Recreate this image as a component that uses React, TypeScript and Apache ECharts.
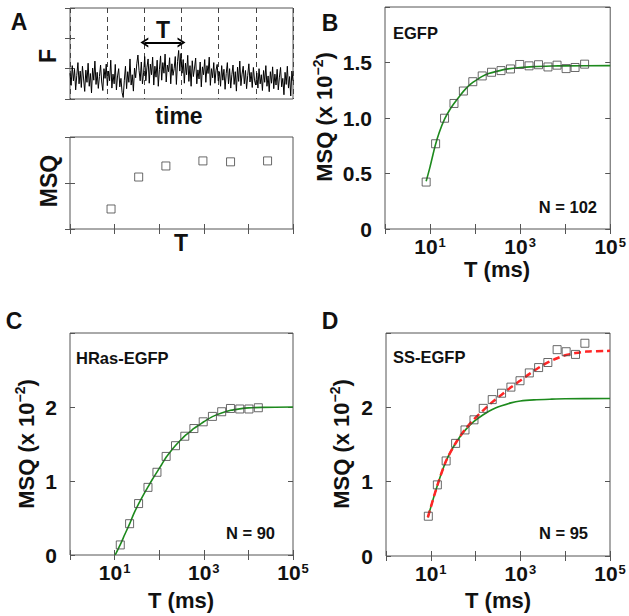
import { useEffect, useRef } from "react";
import * as echarts from "echarts";

const FONT = '"Liberation Sans", Arial, sans-serif';
const INK = "#111";
const FRAME = "#555";
const GREEN = "#1d8a1d";
const RED = "#ff2626";

// Panel A (top): fluorescence trace, evenly sampled over 6 intervals
const traceF = [
  0.85, 0.45, 1.1, 0.6, 0.98, 0.3, 0.78, 1.2, 0.5, 0.92, 0.38, 1.08, 0.66, 0.25, 0.95, 0.55, 1.18, 0.42, 0.84, 0.2, 1.02, 0.62, 1.25, 0.48, 0.88, 0.35, 0.74, 1.12, 0.56, 0.28, 1.0, 0.68, 1.15,
  0.44, 0.92, 0.6, 1.28, 0.36, 0.82, 0.5, 1.14, 0.3, 0.76, 1.0, 0.4, 0.68, 0.22, 0.05, 0.62, 1.08, 0.34, 0.9, 0.55, 1.32, 0.46, 0.8, 0.26, 1.02, 0.7, 1.16, 1.45, 0.94, 0.6, 1.22, 0.5, 0.86,
  1.4, 0.6, 1.05, 1.32, 0.52, 1.15, 0.8, 1.38, 0.46, 1.08, 0.72, 1.28, 0.42, 0.98, 1.42, 0.62, 1.2, 0.85, 1.48, 0.56, 1.12, 0.9, 1.36, 0.5, 1.16, 0.78, 1.0, 1.4, 0.48, 1.24, 1.6, 0.92, 1.5,
  0.85, 1.3, 0.52, 1.18, 0.8, 1.44, 0.58, 1.1, 0.42, 1.26, 0.74, 1.02, 1.35, 0.5, 0.96, 0.66, 1.22, 0.4, 1.06, 0.8, 1.3, 0.55, 1.1, 0.84, 1.38, 0.45, 1.0, 0.7, 1.2, 0.52, 0.95, 1.14, 0.6,
  0.9, 0.42, 1.1, 0.62, 0.98, 0.32, 0.84, 1.2, 0.5, 1.0, 0.36, 0.8, 1.12, 0.48, 0.9, 0.26, 1.05, 0.58, 1.25, 0.44, 0.82, 1.08, 0.5, 0.94, 0.34, 0.78, 1.16, 0.56, 0.88, 0.38, 1.04, 0.62, 0.46,
  0.86, 0.36, 1.0, 0.5, 0.8, 0.28, 0.94, 0.55, 1.1, 0.42, 0.76, 0.24, 0.9, 0.52, 1.06, 0.34, 0.82, 0.46, 0.98, 0.3, 0.72, 1.04, 0.4, 0.68, 0.14, 0.88, 0.48, 1.08, 0.36, 0.74, 0.1, 0.92, 0.6,
];

// Panel A (bottom): schematic MSQ vs T
const schemT = [0.92, 1.54, 2.15, 2.98, 3.6, 4.43];
const schemMSQ = [0.435, 1.13, 1.37, 1.48, 1.46, 1.48];

// Panel B: EGFP
const egfpT = [8.2, 13.3, 21, 34, 55, 89, 144, 232, 377, 610, 980, 1580, 2560, 4150, 6600, 10500, 16600, 27000];
const egfpMSQ = [0.423, 0.768, 0.998, 1.131, 1.243, 1.327, 1.379, 1.412, 1.427, 1.442, 1.482, 1.47, 1.48, 1.46, 1.476, 1.445, 1.455, 1.485];
const egfpFitT = [8.2, 10, 13, 16, 21, 27, 34, 44, 55, 70, 89, 115, 144, 200, 300, 500, 1000, 2000, 5000, 10000, 100000];
const egfpFitMSQ = [0.43, 0.56, 0.75, 0.87, 0.99, 1.07, 1.13, 1.19, 1.24, 1.285, 1.32, 1.35, 1.375, 1.4, 1.42, 1.44, 1.455, 1.463, 1.468, 1.47, 1.472];

// Panel C: HRas-EGFP
const hrasT = [13.4, 21.7, 34.5, 56, 89, 143, 232, 375, 600, 970, 1560, 2520, 3960, 6400, 10300, 16700];
const hrasMSQ = [0.136, 0.423, 0.695, 0.914, 1.118, 1.332, 1.477, 1.605, 1.709, 1.8, 1.873, 1.936, 1.98, 1.973, 1.973, 1.99];
const hrasFitT = [10.3, 13.4, 17, 21.7, 27, 34.5, 44, 56, 70, 89, 113, 143, 180, 232, 300, 375, 480, 600, 800, 1000, 1560, 2500, 4000, 6400, 10000, 20000, 100000];
const hrasFitMSQ = [0, 0.14, 0.28, 0.42, 0.56, 0.69, 0.81, 0.92, 1.02, 1.12, 1.22, 1.32, 1.4, 1.48, 1.55, 1.61, 1.66, 1.71, 1.76, 1.8, 1.87, 1.92, 1.955, 1.975, 1.988, 1.995, 2.0];

// Panel D: SS-EGFP
const ssT = [8.8, 14, 22, 35.8, 58, 92, 148, 235, 380, 614, 980, 1580, 2550, 4100, 6600, 10500, 17000, 27500];
const ssMSQ = [0.535, 0.957, 1.279, 1.515, 1.696, 1.832, 1.986, 2.104, 2.19, 2.272, 2.358, 2.463, 2.535, 2.603, 2.776, 2.748, 2.712, 2.862];
const ssFit2T = [8.6, 14, 22, 36, 58, 92, 148, 235, 380, 614, 1000, 1600, 2500, 4000, 6600, 10000, 17000, 30000, 100000];
const ssFit2MSQ = [0.52, 0.95, 1.28, 1.52, 1.7, 1.84, 1.96, 2.07, 2.17, 2.27, 2.36, 2.45, 2.53, 2.6, 2.66, 2.7, 2.73, 2.75, 2.76];
const ssFit1T = [8.6, 14, 22, 36, 58, 92, 148, 235, 380, 614, 1000, 2000, 5000, 10000, 100000];
const ssFit1MSQ = [0.52, 0.95, 1.28, 1.52, 1.69, 1.81, 1.9, 1.97, 2.02, 2.06, 2.085, 2.1, 2.11, 2.115, 2.118];

// Tick labels
const logLabelExponents = [1, 3, 5];
const yLabelsB = ["0", "0.5", "1.0", "1.5"];
const yLabelsCD = ["0", "1", "2"];

const zip = (xs: number[], ys: number[]) => xs.map((x, i) => [x, ys[i]]);

export default function App() {
  const ref = useRef<HTMLDivElement>(null);
  useEffect(() => {
    const chart = echarts.init(ref.current!, null, { renderer: "svg" });

    const grids = [
      { left: 70, top: 8, width: 223, height: 91 },
      { left: 70, top: 137, width: 223, height: 92 },
      { left: 385, top: 7, width: 226, height: 222 },
      { left: 70, top: 333, width: 223, height: 222 },
      { left: 386, top: 333, width: 224, height: 223 },
    ].map((g) => ({ ...g, show: true, borderColor: FRAME, borderWidth: 1, backgroundColor: "transparent", containLabel: false }));

    const tick = { show: true, inside: true, length: 5, lineStyle: { color: FRAME, width: 1 } };
    const hidden = { show: false };
    const supRich = {
      b: { fontSize: 21, fontWeight: "bold", fontFamily: FONT, color: INK, lineHeight: 21, verticalAlign: "bottom" },
      s: { fontSize: 13, fontWeight: "bold", fontFamily: FONT, color: INK, lineHeight: 11, verticalAlign: "top", padding: [0, 0, 0, 1] },
    };
    const logLabel = {
      show: true,
      margin: 7,
      showMinLabel: true,
      showMaxLabel: true,
      formatter: (v: number) => {
        const e = Math.round(Math.log10(v));
        return logLabelExponents.includes(e) ? `{b|10}{s|${e}}` : "";
      },
      rich: supRich,
    };
    const yLabelStyle = { fontSize: 21, fontWeight: "bold", fontFamily: FONT, color: INK, margin: 13 };

    const logX = (g: number, position: string, label: boolean) => ({
      gridIndex: g, type: "log", logBase: 10, min: 1, max: 100000, position,
      axisLine: hidden, axisTick: tick, splitLine: hidden, minorTick: hidden, minorSplitLine: hidden,
      axisLabel: label ? logLabel : hidden,
    });
    const linY = (g: number, position: string, max: number, interval: number, labels: string[] | null) => ({
      gridIndex: g, type: "value", min: 0, max, interval, position,
      axisLine: hidden, axisTick: tick, splitLine: hidden,
      axisLabel: labels
        ? { ...yLabelStyle, formatter: (v: number) => labels[Math.round(v / interval)] ?? "" }
        : hidden,
    });

    const xAxis: any[] = [
      { gridIndex: 0, type: "value", min: 0, max: 6, interval: 1, position: "bottom", axisLine: hidden, axisTick: hidden, axisLabel: hidden,
        splitLine: { show: true, lineStyle: { color: "#444", width: 1, type: [5, 4] } } },
      { gridIndex: 0, type: "value", min: 0, max: 6, interval: 1, position: "top", axisLine: hidden, axisTick: hidden, axisLabel: hidden, splitLine: hidden },
      { gridIndex: 1, type: "value", min: 0, max: 5, interval: 1, position: "bottom", axisLine: hidden, axisTick: tick, axisLabel: hidden, splitLine: hidden },
      { gridIndex: 1, type: "value", min: 0, max: 5, interval: 1, position: "top", axisLine: hidden, axisTick: tick, axisLabel: hidden, splitLine: hidden },
      logX(2, "bottom", true), logX(2, "top", false),
      logX(3, "bottom", true), logX(3, "top", false),
      logX(4, "bottom", true), logX(4, "top", false),
    ];
    const yAxis: any[] = [
      linY(0, "left", 3, 1, null), linY(0, "right", 3, 1, null),
      linY(1, "left", 2, 1, null), linY(1, "right", 2, 1, null),
      linY(2, "left", 2, 0.5, yLabelsB), linY(2, "right", 2, 0.5, null),
      linY(3, "left", 3, 1, yLabelsCD), linY(3, "right", 3, 1, null),
      linY(4, "left", 3, 1, yLabelsCD), linY(4, "right", 3, 1, null),
    ];

    const squares = (name: string, idx: number, data: number[][]) => ({
      name, type: "scatter", xAxisIndex: idx, yAxisIndex: idx, data, symbol: "rect", symbolSize: 8, z: 4,
      itemStyle: { color: "rgba(255,255,255,0)", borderColor: "#444", borderWidth: 1 },
    });
    const fit = (name: string, idx: number, data: number[][], color: string, dashed: boolean) => ({
      name, type: "line", xAxisIndex: idx, yAxisIndex: idx, data, showSymbol: false, smooth: 0.3, z: 3,
      lineStyle: { color, width: dashed ? 2.5 : 1.6, type: dashed ? [7, 4] : "solid" },
    });

    const chevron = "path://M0,10 L5,0 L10,10 L8,10 L5,4 L2,10 Z";

    const series: any[] = [
      {
        name: "trace", type: "line", xAxisIndex: 0, yAxisIndex: 0, showSymbol: false,
        data: traceF.map((v, i) => [(i * 6) / (traceF.length - 1), v]),
        lineStyle: { color: "#000", width: 1 },
        markLine: {
          silent: true, symbol: [chevron, chevron], symbolSize: [10, 8],
          lineStyle: { color: "#000", width: 2, type: "solid" },
          label: { show: true, position: "middle", formatter: "T", fontSize: 23, fontWeight: "bold", fontFamily: FONT, color: INK, distance: 1 },
          data: [[{ coord: [2, 1.86] }, { coord: [3, 1.86] }]],
        },
      },
      squares("schematic", 2, zip(schemT, schemMSQ)),
      fit("EGFP fit", 4, zip(egfpFitT, egfpFitMSQ), GREEN, false),
      squares("EGFP", 4, zip(egfpT, egfpMSQ)),
      fit("HRas-EGFP fit", 6, zip(hrasFitT, hrasFitMSQ), GREEN, false),
      squares("HRas-EGFP", 6, zip(hrasT, hrasMSQ)),
      fit("SS-EGFP fit 1", 8, zip(ssFit1T, ssFit1MSQ), GREEN, false),
      fit("SS-EGFP fit 2", 8, zip(ssFit2T, ssFit2MSQ), RED, true),
      squares("SS-EGFP", 8, zip(ssT, ssMSQ)),
    ];

    const txt = (text: string, x: number, y: number, size: number, align = "center", rotate = false) => ({
      type: "text", x, y, rotation: rotate ? Math.PI / 2 : 0, z: 10,
      style: { text, fontSize: size, fontWeight: "bold", fontFamily: FONT, fill: INK, align, verticalAlign: "middle" },
    });
    const yTitle = (x: number, y: number) => ({
      type: "text", x, y, rotation: Math.PI / 2, z: 10,
      style: {
        text: "{b|MSQ (x 10}{s|−2}{b|)}", align: "center", verticalAlign: "middle", fill: INK,
        rich: {
          b: { fontSize: 22, fontWeight: "bold", fontFamily: FONT, fill: INK, lineHeight: 24, verticalAlign: "bottom" },
          s: { fontSize: 14, fontWeight: "bold", fontFamily: FONT, fill: INK, lineHeight: 13, verticalAlign: "top" },
        },
      },
    });

    const graphic: any[] = [
      txt("A", 19, 22, 23), txt("B", 330, 23, 23), txt("C", 14, 321, 23), txt("D", 330, 321, 23),
      txt("F", 48, 56, 23, "center", true),
      txt("time", 179, 116, 23),
      txt("MSQ", 49, 181, 23, "center", true),
      txt("T", 181, 243, 23),
      txt("T (ms)", 497, 269, 22), txt("T (ms)", 181, 600, 22), txt("T (ms)", 498, 600, 22),
      yTitle(323, 117), yTitle(25, 444), yTitle(340, 444),
      txt("EGFP", 393, 33, 16.5, "left"), txt("N = 102", 597, 207, 16.5, "right"),
      txt("HRas-EGFP", 76, 358, 16.5, "left"), txt("N = 90", 275, 533, 16.5, "right"),
      txt("SS-EGFP", 393, 357, 16.5, "left"), txt("N = 95", 588, 533, 16.5, "right"),
    ];

    chart.setOption({
      animation: false,
      backgroundColor: "#fff",
      grid: grids,
      xAxis,
      yAxis,
      series,
      graphic,
    });
    return () => chart.dispose();
  }, []);
  return <div ref={ref} style={{ position: "fixed", left: 0, top: 0, width: 629, height: 616 }} />;
}
